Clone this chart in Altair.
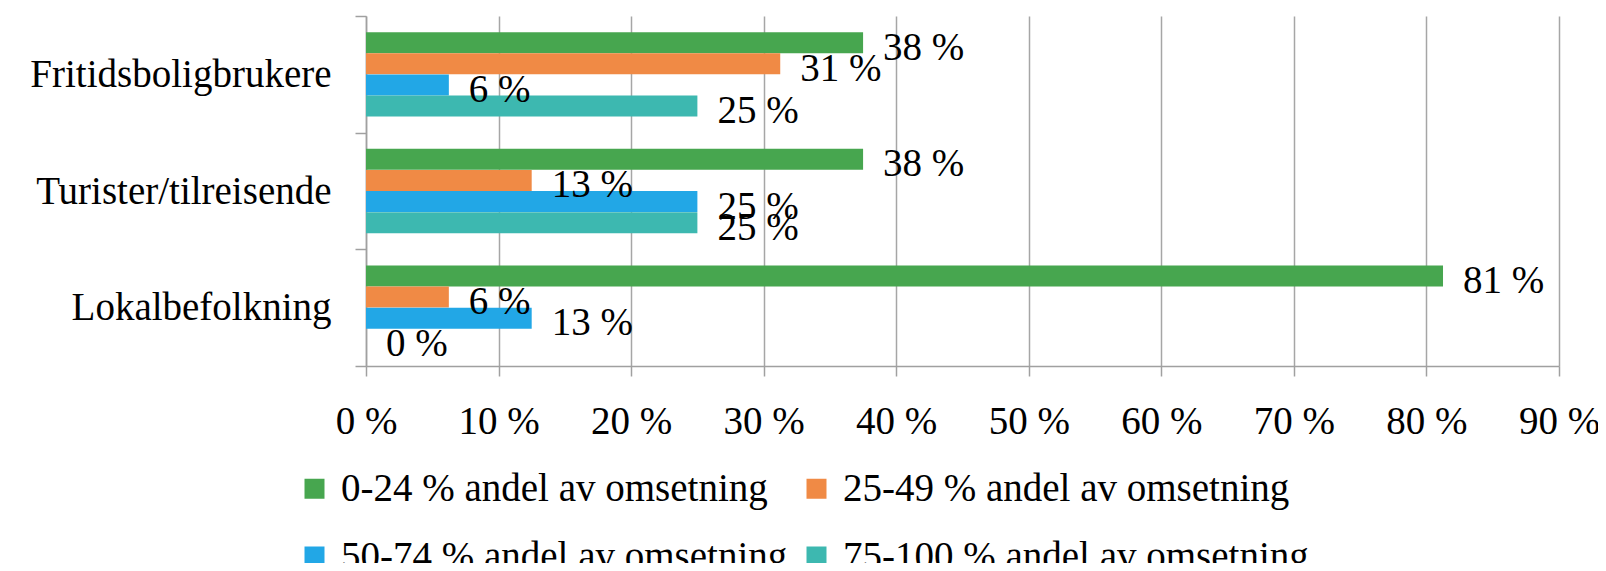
import altair as alt
import pandas as pd

categories = ["Fritidsboligbrukere", "Turister/tilreisende", "Lokalbefolkning"]
series = [
    "0-24 % andel av omsetning",
    "25-49 % andel av omsetning",
    "50-74 % andel av omsetning",
    "75-100 % andel av omsetning",
]
colors = ["#47A64F", "#F08A45", "#22A7E6", "#3DB8B0"]

# values in percent, per series, in category order
v_0_24 = [37.5, 37.5, 81.25]
v_25_49 = [31.25, 12.5, 6.25]
v_50_74 = [6.25, 25.0, 12.5]
v_75_100 = [25.0, 25.0, 0.0]

l_0_24 = ["38 %", "38 %", "81 %"]
l_25_49 = ["31 %", "13 %", "6 %"]
l_50_74 = ["6 %", "25 %", "13 %"]
l_75_100 = ["25 %", "25 %", "0 %"]

x_ticks = [0, 10, 20, 30, 40, 50, 60, 70, 80, 90]

rows = []
for s, vals, labs in zip(series, [v_0_24, v_25_49, v_50_74, v_75_100],
                         [l_0_24, l_25_49, l_50_74, l_75_100]):
    for c, v, l in zip(categories, vals, labs):
        rows.append({"kategori": c, "serie": s, "verdi": v, "etikett": l})
df = pd.DataFrame(rows)

FONT = "Liberation Serif"
FS = 39

y_enc = alt.Y(
    "kategori:N",
    sort=categories,
    scale=alt.Scale(paddingInner=0, paddingOuter=0),
    axis=alt.Axis(
        title=None,
        tickBand="extent",
        domainColor="#A0A0A0",
        domainWidth=1.5,
        tickColor="#A0A0A0",
        tickWidth=1.5,
        tickSize=11,
        labelPadding=24,
        labelFont=FONT,
        labelFontSize=FS,
        labelColor="black",
        labelLimit=1000,
        grid=False,
    ),
)
yoff_enc = alt.YOffset(
    "serie:N", sort=series, scale=alt.Scale(paddingOuter=0.765, paddingInner=0)
)
x_enc = alt.X(
    "verdi:Q",
    scale=alt.Scale(domain=[0, 90], nice=False),
    axis=alt.Axis(
        title=None,
        values=x_ticks,
        labelExpr="datum.value + ' %'",
        grid=True,
        gridColor="#A6A6A6",
        gridWidth=1.5,
        domainColor="#A0A0A0",
        domainWidth=1.5,
        tickColor="#A0A0A0",
        tickWidth=1.5,
        tickSize=10,
        labelPadding=26,
        labelFont=FONT,
        labelFontSize=FS,
        labelColor="black",
        labelFlush=False,
        labelOverlap=False,
    ),
)

bars = alt.Chart(df).mark_bar(size=21).encode(
    y=y_enc,
    yOffset=yoff_enc,
    x=x_enc,
    color=alt.Color(
        "serie:N",
        sort=series,
        scale=alt.Scale(domain=series, range=colors),
        legend=alt.Legend(
            title=None,
            orient="none",
            legendX=-71,
            legendY=453,
            columns=2,
            direction="horizontal",
            symbolType="square",
            symbolSize=400,
            symbolStrokeWidth=0,
            labelFont=FONT,
            labelFontSize=FS,
            labelColor="black",
            labelOffset=7,
            columnPadding=9,
            rowPadding=28,
            padding=0,
            labelLimit=1000,
        ),
    ),
)

labels = alt.Chart(df).mark_text(
    align="left", baseline="middle", dx=20, dy=5, font=FONT, fontSize=FS, color="black"
).encode(
    y=alt.Y("kategori:N", sort=categories),
    yOffset=alt.YOffset("serie:N", sort=series),
    x=alt.X("verdi:Q"),
    text="etikett:N",
)

chart = (
    alt.layer(bars, labels)
    .properties(
        width=1193,
        height=350,
        autosize=alt.AutoSizeParams(type="none"),
        padding={"left": 358, "top": 8, "right": 39, "bottom": 197},
    )
    .configure_view(stroke=None)
)

chart.save("out.html", embed_options={"renderer": "svg", "actions": False})
